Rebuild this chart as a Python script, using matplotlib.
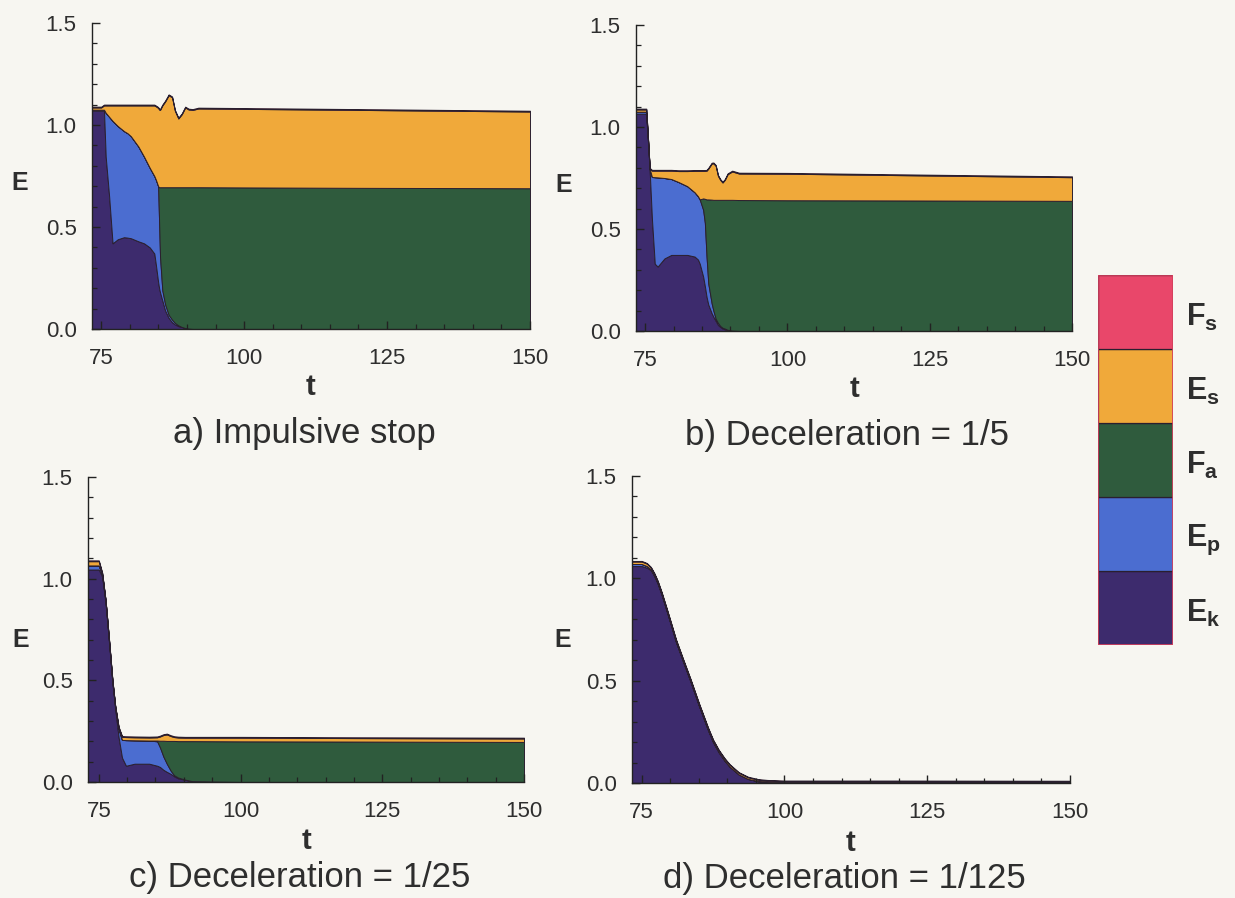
import matplotlib
matplotlib.use('Agg')
import matplotlib.pyplot as plt
from matplotlib.patches import Rectangle
from matplotlib.ticker import MultipleLocator, FixedLocator, FixedFormatter

plt.rcParams['font.family'] = ['Liberation Sans', 'DejaVu Sans']
plt.rcParams['mathtext.fontset'] = 'custom'
plt.rcParams['mathtext.rm'] = 'Liberation Sans'
plt.rcParams['mathtext.bf'] = 'Liberation Sans:bold'

BG = '#f7f6f1'
TXT = '#2e2e2e'
EDGE = '#2a1f2f'

layer_labels = [r'$\mathbf{E_k}$', r'$\mathbf{E_p}$', r'$\mathbf{F_a}$', r'$\mathbf{E_s}$', r'$\mathbf{F_s}$']
layer_colors = ['#3d2b6d', '#4b6dd0', '#2f5b3d', '#f0a93a', '#e9476a']

x_ticks = [75, 100, 125, 150]
y_ticks = [0.0, 0.5, 1.0, 1.5]
y_tick_labels = ['0.0', '0.5', '1.0', '1.5']

# ---- panel a) impulsive stop ----
t_a = [73.4, 75.0, 75.5, 75.8, 76.4, 77.0, 77.9, 79.0, 79.6, 80.2, 81.5, 82.5, 83.5, 84.3, 84.6,
       84.97, 85.14, 85.3, 85.7, 86.2, 86.8, 87.4, 87.9, 88.5, 89.1, 89.7, 90.3, 91.0, 92.0,
       100.0, 120.0, 150.0]
ek_a = [1.07, 1.07, 1.07, 0.845, 0.65, 0.42, 0.44, 0.45, 0.448, 0.445, 0.43, 0.42, 0.40, 0.37, 0.31,
        0.23, 0.20, 0.18, 0.14, 0.09, 0.055, 0.033, 0.022, 0.014, 0.01, 0.005, 0.002, 0.0, 0.0,
        0.0, 0.0, 0.0]
ep_a = [0.005, 0.005, 0.005, 0.215, 0.39, 0.60, 0.555, 0.52, 0.512, 0.50, 0.465, 0.425, 0.39, 0.38, 0.42,
        0.47, 0.32, 0.174, 0.05, 0.03, 0.015, 0.013, 0.008, 0.004, 0.0, 0.0, 0.0, 0.0, 0.0,
        0.0, 0.0, 0.0]
fa_a = [0.0, 0.0, 0.0, 0.0, 0.0, 0.0, 0.0, 0.0, 0.0, 0.0, 0.0, 0.0, 0.0, 0.0, 0.0,
        0.0, 0.175, 0.341, 0.505, 0.575, 0.625, 0.649, 0.665, 0.677, 0.685, 0.69, 0.693, 0.695, 0.695,
        0.694, 0.692, 0.69]
es_a = [0.011, 0.011, 0.021, 0.036, 0.056, 0.076, 0.101, 0.126, 0.136, 0.151, 0.201, 0.251, 0.306, 0.346, 0.361,
        0.384, 0.381, 0.379, 0.401, 0.421, 0.451, 0.441, 0.375, 0.337, 0.358, 0.391, 0.381, 0.379, 0.386,
        0.385, 0.382, 0.376]
fs_a = [0.004, 0.004, 0.004, 0.004, 0.004, 0.004, 0.004, 0.004, 0.004, 0.004, 0.004, 0.004, 0.004, 0.004, 0.004,
        0.004, 0.004, 0.004, 0.004, 0.004, 0.004, 0.004, 0.004, 0.004, 0.004, 0.004, 0.004, 0.004, 0.004,
        0.004, 0.004, 0.004]

# ---- panel b) deceleration 1/5 ----
t_b = [73.4, 75.0, 75.2, 75.5, 75.8, 76.2, 76.7, 77.2, 78.4, 79.6, 80.9, 82.4, 83.7, 84.3, 84.6,
       85.2, 85.5, 85.8, 86.1, 86.7, 87.0, 87.4, 87.8, 88.2, 88.6, 89.0, 89.5, 90.3, 91.5,
       100.0, 120.0, 150.0]
ek_b = [1.065, 1.065, 1.06, 0.93, 0.79, 0.55, 0.33, 0.316, 0.356, 0.373, 0.373, 0.373, 0.365, 0.35, 0.33,
        0.267, 0.22, 0.168, 0.13, 0.087, 0.07, 0.05, 0.03, 0.02, 0.012, 0.008, 0.004, 0.0, 0.0,
        0.0, 0.0, 0.0]
ep_b = [0.01, 0.01, 0.01, 0.01, 0.005, 0.205, 0.424, 0.437, 0.394, 0.372, 0.357, 0.337, 0.315, 0.31, 0.315,
        0.327, 0.31, 0.196, 0.103, 0.048, 0.03, 0.01, 0.01, 0.005, 0.004, 0.004, 0.002, 0.002, 0.0,
        0.0, 0.0, 0.0]
fa_b = [0.0, 0.0, 0.0, 0.0, 0.0, 0.0, 0.0, 0.0, 0.0, 0.0, 0.0, 0.0, 0.0, 0.0, 0.0,
        0.056, 0.118, 0.281, 0.412, 0.509, 0.543, 0.583, 0.603, 0.618, 0.627, 0.631, 0.637, 0.641, 0.642,
        0.641, 0.64, 0.638]
es_b = [0.011, 0.011, 0.016, 0.006, 0.001, 0.031, 0.032, 0.033, 0.036, 0.041, 0.054, 0.074, 0.105, 0.125, 0.14,
        0.135, 0.137, 0.141, 0.151, 0.177, 0.179, 0.167, 0.118, 0.098, 0.085, 0.098, 0.126, 0.139, 0.13,
        0.13, 0.124, 0.116]
fs_b = [0.004, 0.004, 0.004, 0.004, 0.004, 0.004, 0.004, 0.004, 0.004, 0.004, 0.004, 0.004, 0.004, 0.004, 0.004,
        0.004, 0.004, 0.004, 0.004, 0.004, 0.004, 0.004, 0.004, 0.004, 0.004, 0.004, 0.004, 0.004, 0.004,
        0.004, 0.004, 0.004]

# ---- panel c) deceleration 1/25 ----
t_c = [73.1, 75.0, 75.6, 76.2, 76.8, 77.4, 77.9, 78.5, 79.1, 79.8, 81.3, 83.9, 85.3, 85.8, 86.4,
       87.0, 87.7, 88.3, 89.0, 90.2, 91.5, 100.0, 120.0, 150.0]
ek_c = [1.045, 1.045, 1.01, 0.88, 0.69, 0.49, 0.36, 0.22, 0.12, 0.08, 0.09, 0.09, 0.08, 0.074, 0.06,
        0.05, 0.04, 0.028, 0.018, 0.011, 0.003, 0.0, 0.0, 0.0]
ep_c = [0.02, 0.02, 0.01, 0.01, 0.007, 0.007, 0.01, 0.042, 0.087, 0.126, 0.115, 0.114, 0.12, 0.096, 0.065,
        0.04, 0.015, 0.005, 0.004, 0.001, 0.001, 0.0, 0.0, 0.0]
fa_c = [0.0, 0.0, 0.0, 0.0, 0.0, 0.0, 0.0, 0.0, 0.0, 0.0, 0.0, 0.0, 0.004, 0.033, 0.078,
        0.112, 0.147, 0.169, 0.179, 0.189, 0.197, 0.20, 0.199, 0.197]
es_c = [0.021, 0.021, 0.006, 0.001, 0.004, 0.004, 0.001, 0.006, 0.015, 0.015, 0.015, 0.015, 0.016, 0.021, 0.028,
        0.032, 0.024, 0.019, 0.018, 0.017, 0.017, 0.018, 0.017, 0.017]
fs_c = [0.004, 0.004, 0.004, 0.004, 0.004, 0.004, 0.004, 0.004, 0.004, 0.004, 0.004, 0.004, 0.004, 0.004, 0.004,
        0.004, 0.004, 0.004, 0.004, 0.004, 0.004, 0.004, 0.004, 0.004]

# ---- panel d) deceleration 1/125 ----
t_d = [73.3, 75.0, 75.9, 76.6, 77.2, 77.8, 78.5, 79.5, 80.2, 81.0, 82.3, 83.5, 85.0, 86.6, 87.5,
       88.5, 89.5, 90.4, 92.0, 93.6, 95.4, 97.0, 100.0, 120.0, 150.0]
ek_d = [1.06, 1.06, 1.052, 1.04, 1.012, 0.975, 0.92, 0.83, 0.765, 0.69, 0.59, 0.50, 0.38, 0.26, 0.20,
        0.15, 0.11, 0.08, 0.042, 0.02, 0.008, 0.003, 0.0, 0.0, 0.0]
ep_d = [0.01, 0.01, 0.008, 0.004, 0.002, 0.001, 0.0, 0.0, 0.0, 0.0, 0.0, 0.0, 0.0, 0.0, 0.0,
        0.0, 0.0, 0.0, 0.0, 0.0, 0.0, 0.0, 0.0, 0.0, 0.0]
fa_d = [0.0, 0.0, 0.0, 0.0, 0.0, 0.0, 0.0, 0.0, 0.0, 0.0, 0.0, 0.0, 0.0, 0.0, 0.0,
        0.0, 0.0, 0.0, 0.0, 0.0, 0.002, 0.004, 0.004, 0.004, 0.004]
es_d = [0.012, 0.012, 0.012, 0.009, 0.009, 0.009, 0.009, 0.009, 0.009, 0.009, 0.009, 0.009, 0.009, 0.009, 0.009,
        0.009, 0.009, 0.009, 0.008, 0.008, 0.006, 0.005, 0.005, 0.005, 0.004]
fs_d = [0.003, 0.003, 0.003, 0.003, 0.003, 0.003, 0.003, 0.003, 0.003, 0.003, 0.003, 0.003, 0.003, 0.003, 0.003,
        0.003, 0.003, 0.003, 0.003, 0.003, 0.003, 0.003, 0.003, 0.003, 0.003]

captions = ['a) Impulsive stop', 'b) Deceleration = 1/5',
            'c) Deceleration = 1/25', 'd) Deceleration = 1/125']

W, H = 1235, 898
fig = plt.figure(figsize=(W / 100, H / 100), dpi=100, facecolor=BG)


def px_rect(left, right, top, bottom):
    return [left / W, (H - bottom) / H, (right - left) / W, (bottom - top) / H]


panel_specs = [
    # rect, xmin, E-label pos, t-label y, caption baseline y
    (px_rect(92, 530, 23, 329), 73.4, (-0.164, 0.477), -0.189, -0.371,
     (t_a, ek_a, ep_a, fa_a, es_a, fs_a), captions[0]),
    (px_rect(636, 1072, 25, 331), 73.4, (-0.167, 0.477), -0.189, -0.371,
     (t_b, ek_b, ep_b, fa_b, es_b, fs_b), captions[1]),
    (px_rect(88, 524, 477, 782), 73.1, (-0.155, 0.466), -0.195, -0.345,
     (t_c, ek_c, ep_c, fa_c, es_c, fs_c), captions[2]),
    (px_rect(632, 1070, 476, 783), 73.3, (-0.158, 0.466), -0.195, -0.341,
     (t_d, ek_d, ep_d, fa_d, es_d, fs_d), captions[3]),
]

for rect, xmin, epos, ty, cy, data, cap in panel_specs:
    ax = fig.add_axes(rect)
    ax.set_facecolor('none')
    t, ek, ep, fa, es, fs = data
    ax.stackplot(t, ek, ep, fa, es, fs, colors=layer_colors,
                 edgecolor=EDGE, linewidth=0.7)
    ax.set_xlim(xmin, 150)
    ax.set_ylim(0, 1.5)
    for s in ['top', 'right']:
        ax.spines[s].set_visible(False)
    for s in ['left', 'bottom']:
        ax.spines[s].set_color('#222222')
        ax.spines[s].set_linewidth(1.0)
    ax.xaxis.set_major_locator(FixedLocator(x_ticks))
    ax.xaxis.set_minor_locator(MultipleLocator(5))
    ax.yaxis.set_major_locator(FixedLocator(y_ticks))
    ax.yaxis.set_major_formatter(FixedFormatter(y_tick_labels))
    ax.yaxis.set_minor_locator(MultipleLocator(0.1))
    ax.tick_params(which='major', direction='in', length=6, width=1.0,
                   colors='#222222', labelcolor=TXT, labelsize=16)
    ax.tick_params(which='minor', direction='in', length=3.5, width=0.9, colors='#222222')
    ax.tick_params(axis='y', which='major', pad=11)
    ax.tick_params(axis='x', which='major', pad=14)
    ax.text(epos[0], epos[1], 'E', transform=ax.transAxes, ha='center', va='center',
            fontsize=18, fontweight='bold', color=TXT)
    ax.text(0.5, ty, 't', transform=ax.transAxes, ha='center', va='center',
            fontsize=21, fontweight='bold', color=TXT)
    ax.text(0.485, cy, cap, transform=ax.transAxes, ha='center', va='baseline',
            fontsize=25, color=TXT)

# ---- stacked colour key ----
lax = fig.add_axes(px_rect(1098, 1173, 275, 645))
lax.set_facecolor('none')
n = len(layer_colors)
lax.bar([0] * n, [1] * n, bottom=list(range(n)), width=1.0,
        color=layer_colors, edgecolor=EDGE, linewidth=0.9)
lax.add_patch(Rectangle((-0.5, 0), 1.0, n, fill=False, edgecolor='#d8405e', linewidth=1.2))
lax.set_xlim(-0.5, 0.5)
lax.set_ylim(0, n)
lax.axis('off')
for i, lab in enumerate(layer_labels):
    lax.text(1.17, (i + 0.42) / n, lab, transform=lax.transAxes, ha='left', va='center',
             fontsize=22, color=TXT)

fig.savefig('out.png', dpi=100, facecolor=BG)
